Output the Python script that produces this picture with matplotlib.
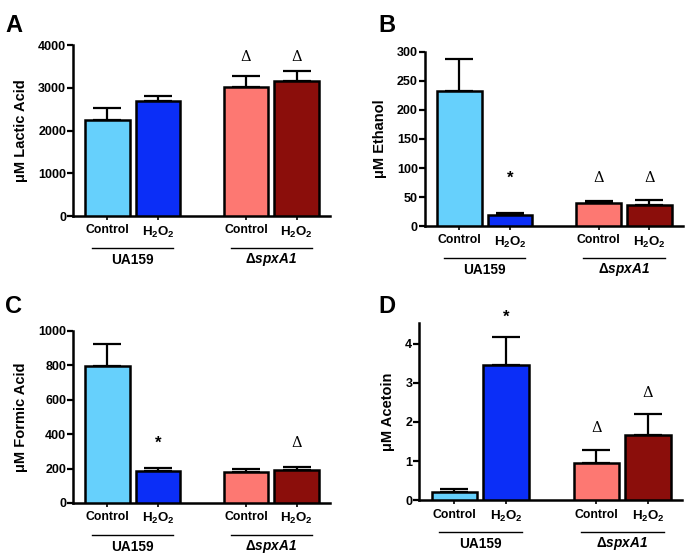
import matplotlib
matplotlib.use('Agg')
import matplotlib.pyplot as plt
import matplotlib.transforms as mtransforms
import numpy as np

plt.rcParams['font.family'] = ['Liberation Sans', 'DejaVu Sans']
plt.rcParams['font.weight'] = 'bold'
plt.rcParams['axes.labelweight'] = 'bold'
plt.rcParams['mathtext.fontset'] = 'custom'
plt.rcParams['mathtext.rm'] = 'Liberation Sans:bold'
plt.rcParams['mathtext.bf'] = 'Liberation Sans:bold'
plt.rcParams['mathtext.it'] = 'Liberation Sans:italic:bold'
plt.rcParams['mathtext.default'] = 'bf'

# data
conditions = ['Control', r'H$_2$O$_2$', 'Control', r'H$_2$O$_2$']
strains = ['UA159', r'$\Delta$spxA1']
strain_styles = ['normal', 'italic']
bar_colors = ['#66d0fc', '#0b2ef7', '#fd7872', '#8b0e0b']

lactic_mean = [2250, 2700, 3020, 3150]
lactic_sem = [280, 100, 260, 250]
lactic_marks = ['', '', 'Δ', 'Δ']
lactic_mark_y = [0, 0, 3720, 3720]

ethanol_mean = [233, 20, 40, 37]
ethanol_sem = [54, 2, 3, 8]
ethanol_marks = ['', '*', 'Δ', 'Δ']
ethanol_mark_y = [0, 83, 83, 83]

formic_mean = [795, 185, 182, 190]
formic_sem = [130, 20, 18, 20]
formic_marks = ['', '*', '', 'Δ']
formic_mark_y = [0, 349, 0, 349]

acetoin_mean = [0.2, 3.45, 0.95, 1.67]
acetoin_sem = [0.08, 0.73, 0.33, 0.53]
acetoin_marks = ['', '*', 'Δ', 'Δ']
acetoin_mark_y = [0, 4.67, 1.85, 2.74]

panels = [
    ('A', 'μM Lactic Acid', lactic_mean, lactic_sem, lactic_marks, lactic_mark_y,
     [0, 1000, 2000, 3000, 4000], 4000, [0.1066, 0.612, 0.375, 0.307], (0.008, 0.975)),
    ('B', 'μM Ethanol', ethanol_mean, ethanol_sem, ethanol_marks, ethanol_mark_y,
     [0, 50, 100, 150, 200, 250, 300], 300, [0.620, 0.594, 0.377, 0.313], (0.552, 0.975)),
    ('C', 'μM Formic Acid', formic_mean, formic_sem, formic_marks, formic_mark_y,
     [0, 200, 400, 600, 800, 1000], 1000, [0.1066, 0.097, 0.375, 0.309], (0.008, 0.47)),
    ('D', 'μM Acetoin', acetoin_mean, acetoin_sem, acetoin_marks, acetoin_mark_y,
     [0, 1, 2, 3, 4], 4.53, [0.612, 0.102, 0.384, 0.318], (0.552, 0.47)),
]

pos = np.array([0, 1, 2.74, 3.74])

fig = plt.figure(figsize=(6.85, 5.57), dpi=100)

for letter, ylabel, mean, sem, marks, mark_y, yticks, ytop, rect, lpos in panels:
    ax = fig.add_axes(rect)
    ax.bar(pos, mean, width=0.88, color=bar_colors, edgecolor='black', linewidth=1.8, zorder=3)
    ax.errorbar(pos, mean, yerr=[np.zeros(4), sem], fmt='none', ecolor='black',
                elinewidth=1.6, capsize=10, capthick=1.6, zorder=2)
    for x, m, my in zip(pos, marks, mark_y):
        if m == 'Δ':
            ax.text(x, my, m, ha='center', va='center', fontsize=10.5,
                    family='DejaVu Serif', fontweight='normal', clip_on=False)
        elif m == '*':
            ax.text(x, my, m, ha='center', va='center', fontsize=12, clip_on=False)

    ax.set_xlim(-0.68, 4.4)
    ax.set_ylim(0, ytop)
    ax.set_yticks(yticks)
    ax.set_yticklabels([str(t) for t in yticks], fontsize=9)
    ax.set_xticks(pos)
    ax.set_xticklabels(conditions, fontsize=8.8)
    for lbl in ax.get_xticklabels()[1::2]:
        lbl.set_fontsize(9.6)
    ax.set_ylabel(ylabel, fontsize=10.5, fontweight='bold', labelpad=7)
    for s in ['top', 'right']:
        ax.spines[s].set_visible(False)
    for s in ['left', 'bottom']:
        ax.spines[s].set_linewidth(1.8)
    ax.tick_params(axis='y', width=1.6, length=4, pad=1)
    ax.tick_params(axis='x', width=1.2, length=3, pad=3)

    # group lines and strain labels under the axis
    line_tr = ax.get_xaxis_transform() + mtransforms.ScaledTranslation(0, -23 / 72, fig.dpi_scale_trans)
    text_tr = ax.get_xaxis_transform() + mtransforms.ScaledTranslation(0, -31.5 / 72, fig.dpi_scale_trans)
    for i, strain in enumerate(strains):
        x0, x1 = pos[2 * i], pos[2 * i + 1]
        ax.plot([x0 - 0.3, x1 + 0.3], [0, 0], color='black', lw=1, transform=line_tr, clip_on=False)
        ax.text((x0 + x1) / 2, 0, strain, ha='center', va='center', fontsize=9.8,
                style=strain_styles[i], transform=text_tr)

    fig.text(lpos[0], lpos[1], letter, fontsize=17, fontweight='bold', ha='left', va='top')

fig.savefig('out.png', dpi=100)
